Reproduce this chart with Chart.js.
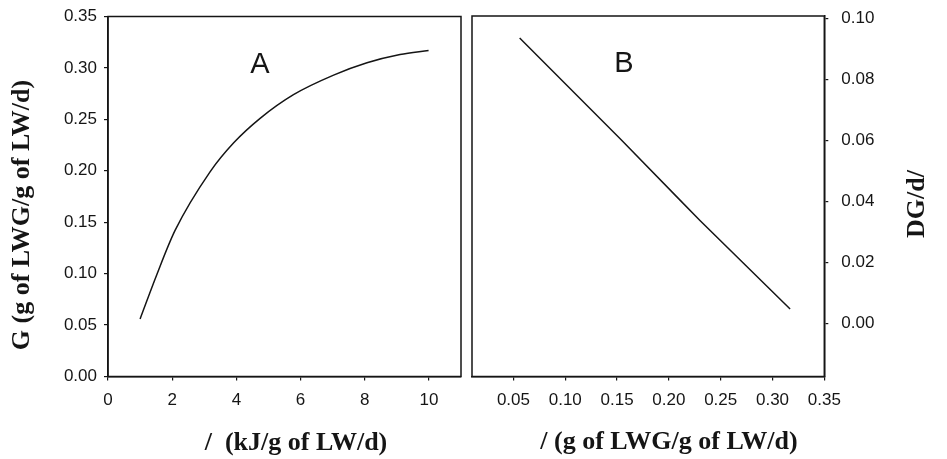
<!DOCTYPE html>
<html><head><meta charset="utf-8">
<script src="https://cdn.jsdelivr.net/npm/chart.js@4.4.1/dist/chart.umd.min.js"></script>
<style>
html,body{margin:0;padding:0;background:#fff;}
#wrap{position:relative;width:947px;height:459px;overflow:hidden;}
canvas{position:absolute;left:0;top:0;}
</style>
</head><body>
<div id="wrap"><canvas id="cA" width="947" height="459"></canvas><canvas id="cB" width="947" height="459"></canvas></div>
<script>
// ---- Panel A data: G vs intake ----
const intakeA = [1.00, 1.52, 2.09, 3.18, 3.91, 4.74, 5.78, 7.03, 8.07, 9.10, 9.99];
const gainA   = [0.056, 0.099, 0.142, 0.199, 0.227, 0.251, 0.274, 0.293, 0.305, 0.313, 0.317];
// ---- Panel B data: DG/d vs G ----
const gainB = [0.056, 0.153, 0.211, 0.230, 0.317];
const dgB   = [0.0935, 0.0605, 0.0403, 0.0337, 0.0047];
// ---- tick labels ----
const xTicksA = [0, 2, 4, 6, 8, 10];
const yTicksA = [0.00, 0.05, 0.10, 0.15, 0.20, 0.25, 0.30, 0.35];
const xTicksB = [0.05, 0.10, 0.15, 0.20, 0.25, 0.30, 0.35];
const yTicksB = [0.00, 0.02, 0.04, 0.06, 0.08, 0.10];
// ---- texts ----
const panelLabelA = 'A';
const panelLabelB = 'B';
const xTitleA = '/  (kJ/g of LW/d)';
const yTitleA = 'G (g of LWG/g of LW/d)';
const xTitleB = '/ (g of LWG/g of LW/d)';
const yTitleB = 'DG/d/';

const INK = '#151515';
const tickFont = {family: '"Liberation Sans", Arial, sans-serif', size: 17};
const titleFont = 'bold 26px "Liberation Serif", "Times New Roman", serif';
const letterFont = '29px "Liberation Sans", Arial, sans-serif';

function fixTicks(arr){ return function(axis){ axis.ticks = arr.map(v => ({value: v})); }; }
function fitBox(w, h){
  return function(s){
    if (w !== null) s.width = w;
    if (h !== null) s.height = h;
    s.paddingTop = 0; s.paddingBottom = 0; s.paddingLeft = 0; s.paddingRight = 0;
  };
}

function makeDecor(letter, lpos, titles){
  return {
    id: 'decor',
    afterDraw(chart){
      const ctx = chart.ctx, a = chart.chartArea;
      ctx.save();
      ctx.strokeStyle = INK; ctx.lineWidth = 1.5;
      ctx.strokeRect(a.left, a.top, a.right - a.left, a.bottom - a.top);
      ctx.fillStyle = INK;
      ctx.textAlign = 'center'; ctx.textBaseline = 'middle';
      ctx.font = letterFont;
      ctx.fillText(letter, lpos[0], lpos[1]);
      ctx.font = titleFont;
      titles.forEach(t => {
        ctx.save();
        ctx.translate(t.x, t.y);
        ctx.rotate(t.rot || 0);
        ctx.fillText(t.text, 0, 0);
        ctx.restore();
      });
      ctx.restore();
    }
  };
}

const gridOpts = {drawOnChartArea: false, drawTicks: true, tickLength: 4, color: INK, lineWidth: 1.2};
const borderOpts = {display: true, color: INK, width: 1.5};

new Chart(document.getElementById('cA'), {
  type: 'line',
  data: { datasets: [{
    data: intakeA.map((x, i) => ({x: x, y: gainA[i]})),
    borderColor: INK, borderWidth: 1.5, pointRadius: 0, fill: false,
    cubicInterpolationMode: 'monotone'
  }]},
  options: {
    responsive: false, animation: false, devicePixelRatio: 1,
    plugins: {legend: {display: false}, tooltip: {enabled: false}},
    layout: {padding: {left: 0, top: 16.5, right: 486, bottom: 0}},
    scales: {
      x: {type: 'linear', min: 0, max: 11,
          afterBuildTicks: fixTicks(xTicksA),
          afterFit: fitBox(null, 82.5),
          grid: gridOpts, border: borderOpts,
          ticks: {font: tickFont, color: INK, padding: 10, maxRotation: 0, callback: v => String(v)}},
      y: {type: 'linear', min: 0, max: 0.35,
          afterBuildTicks: fixTicks(yTicksA),
          afterFit: fitBox(108, null),
          grid: gridOpts, border: borderOpts,
          ticks: {font: tickFont, color: INK, padding: 7, callback: v => v.toFixed(2)}}
    }
  },
  plugins: [makeDecor(panelLabelA, [260, 65], [
    {text: xTitleA, x: 296, y: 443},
    {text: yTitleA, x: 22, y: 215, rot: -Math.PI/2}
  ])]
});

new Chart(document.getElementById('cB'), {
  type: 'line',
  data: { datasets: [{
    data: gainB.map((x, i) => ({x: x, y: dgB[i]})),
    borderColor: INK, borderWidth: 1.5, pointRadius: 0, fill: false, tension: 0
  }]},
  options: {
    responsive: false, animation: false, devicePixelRatio: 1,
    plugins: {legend: {display: false}, tooltip: {enabled: false}},
    layout: {padding: {left: 472, top: 16, right: 0, bottom: 0}},
    scales: {
      x: {type: 'linear', min: 0.01, max: 0.35,
          afterBuildTicks: fixTicks(xTicksB),
          afterFit: fitBox(null, 82.5),
          grid: gridOpts, border: borderOpts,
          ticks: {font: tickFont, color: INK, padding: 10, maxRotation: 0, callback: v => v.toFixed(2)}},
      y: {type: 'linear', position: 'right', min: -0.0174, max: 0.1007,
          afterBuildTicks: fixTicks(yTicksB),
          afterFit: fitBox(122.7, null),
          grid: gridOpts, border: borderOpts,
          ticks: {font: tickFont, color: INK, padding: 13, callback: v => v.toFixed(2)}}
    }
  },
  plugins: [makeDecor(panelLabelB, [624, 64], [
    {text: xTitleB, x: 669, y: 442},
    {text: yTitleB, x: 917, y: 204, rot: -Math.PI/2}
  ])]
});
</script>
</body></html>
